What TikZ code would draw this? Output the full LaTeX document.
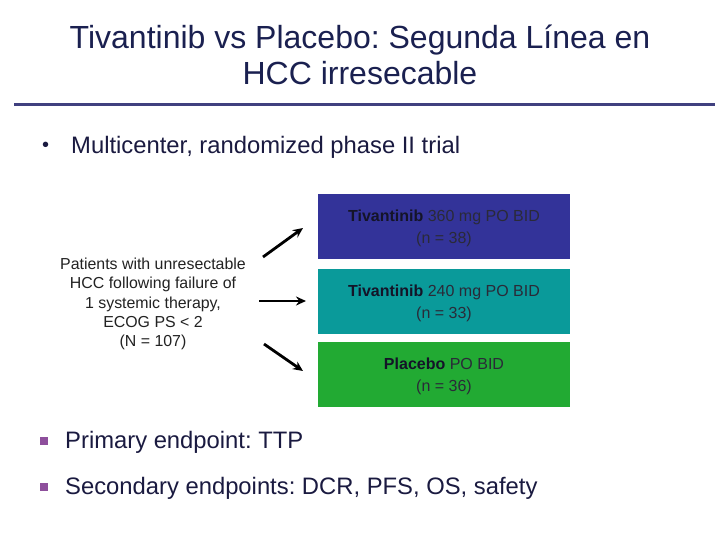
\documentclass[tikz,border=0pt]{standalone}
\usepackage{fontspec}
\setmainfont{Liberation Sans}
\usetikzlibrary{arrows.meta}
\frenchspacing
\definecolor{titlecol}{HTML}{1A2050}
\definecolor{rulecol}{HTML}{40407F}
\definecolor{txtcol}{HTML}{1A1A40}
\definecolor{boxA}{HTML}{333399}
\definecolor{boxB}{HTML}{0A9A9A}
\definecolor{boxC}{HTML}{22AA33}
\definecolor{boxtxt}{HTML}{2A2A38}
\definecolor{boldtxt}{HTML}{141428}
\definecolor{bulcol}{HTML}{8E4F9C}
\definecolor{lefttxt}{HTML}{222222}
\tikzset{
  armbox/.style={fill=#1, draw=none, minimum width=252pt, minimum height=65pt, inner sep=0pt},
  armtext/.style={inner sep=0pt, align=center, text=boxtxt, font=\fontsize{16}{21.5}\selectfont},
  bodytext/.style={anchor=west, inner sep=0pt, text=txtcol, font=\fontsize{23.8}{28}\selectfont},
  sqbullet/.style={fill=bulcol, draw=none, minimum size=8pt, inner sep=0pt},
  arm/.style={line width=2.8pt, -{Stealth[length=10pt,width=9pt]}, black}
}
\begin{document}
\begin{tikzpicture}[x=1pt,y=-1pt]
\useasboundingbox (0,0) rectangle (720,540);
\fill[white] (0,0) rectangle (720,540);
% title
\node[align=center, text=titlecol, font=\fontsize{32}{36}\selectfont, inner sep=0pt] (title) at (360,55)
  {Tivantinib vs Placebo: Segunda Línea en\\HCC irresecable};
\coordinate (rl) at (14,105);
\coordinate (rr) at (715,105);
\draw[rulecol, line width=3pt] (rl) -- (rr);
% first bullet
\node[anchor=west, inner sep=0pt, text=txtcol, font=\fontsize{20}{24}\selectfont] (b0) at (42,147) {•};
\node[bodytext] (t0) at (71,147) {Multicenter, randomized phase II trial};
% arm boxes
\node[armbox=boxA] (a1) at (444,226.5) {};
\node[armbox=boxB] (a2) at (444,301.5) {};
\node[armbox=boxC] (a3) at (444,374.5) {};
\node[armtext] (a1t) at (444,228.5) {\textcolor{boldtxt}{\textbf{Tivantinib}} 360 mg PO BID\\(n = 38)};
\node[armtext] (a2t) at (444,303.5) {\textcolor{boldtxt}{\textbf{Tivantinib}} 240 mg PO BID\\(n = 33)};
\node[armtext] (a3t) at (444,376.5) {\textcolor{boldtxt}{\textbf{Placebo}} PO BID\\(n = 36)};
% patients
\node[align=center, text=lefttxt, font=\fontsize{15.9}{19.3}\selectfont, inner sep=0pt] (pt) at (153,304)
  {Patients with unresectable\\HCC following failure of\\1 systemic therapy,\\ECOG PS < 2\\(N = 107)};
% arrows
\coordinate (s1) at (263,257); \coordinate (e1) at (303,228);
\coordinate (s2) at (259,301); \coordinate (e2) at (306,301);
\coordinate (s3) at (264,344); \coordinate (e3) at (303,371);
\draw[arm] (s1) -- (e1);
\draw[arm] (s2) -- (e2);
\draw[arm] (s3) -- (e3);
% endpoints
\node[sqbullet] (q1) at (44,441) {};
\node[bodytext] (t1) at (65,442.5) {Primary endpoint: TTP};
\node[sqbullet] (q2) at (44,487) {};
\node[bodytext] (t2) at (65,488.5) {Secondary endpoints: DCR, PFS, OS, safety};
\end{tikzpicture}
\end{document}
